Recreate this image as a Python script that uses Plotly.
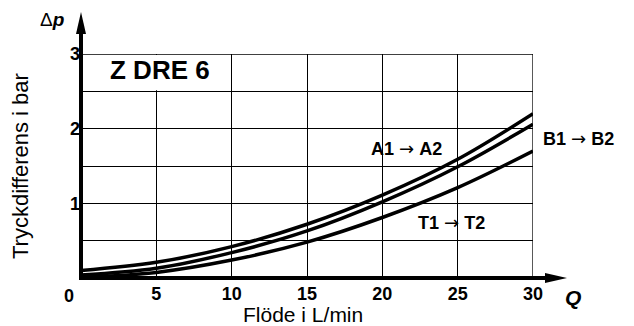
import plotly.graph_objects as go

# Data
flow = [0, 5, 10, 15, 20, 25, 30]
dp_a = [0.10, 0.21, 0.42, 0.72, 1.11, 1.59, 2.20]
dp_b = [0.04, 0.13, 0.34, 0.63, 1.02, 1.49, 2.06]
dp_t = [0.01, 0.075, 0.24, 0.48, 0.81, 1.21, 1.70]

x_ticks = [5, 10, 15, 20, 25, 30]
y_ticks = [0.5, 1, 1.5, 2, 2.5, 3]
y_ticktext = ["", "1", "", "2", "", "3"]

FONT = "Arial, Liberation Sans, sans-serif"
W, H = 626, 318          # page body adds an 8px margin
ML, MR, MT, MB = 73, 101, 46, 48
PW, PH = W - ML - MR, H - MT - MB

def px(p):  # pixel offset -> paper fraction (x)
    return p / PW

def py(p):
    return p / PH

fig = go.Figure()
for ys in (dp_a, dp_b, dp_t):
    fig.add_trace(go.Scatter(x=flow, y=ys, mode="lines",
                             line=dict(color="black", width=3.5, shape="spline", smoothing=1.0),
                             showlegend=False, hoverinfo="skip"))

shapes = []
# white box behind "Z DRE 6" hiding grid
shapes.append(dict(type="rect", xref="x", yref="y", x0=0.2, x1=9.92, y0=2.515, y1=2.985,
                   fillcolor="white", line=dict(width=0), layer="between"))
# border lines at x=30 and y=3
shapes.append(dict(type="line", xref="x", yref="paper", x0=30, x1=30, y0=0, y1=1,
                   line=dict(color="black", width=1.3), layer="between"))
shapes.append(dict(type="line", xref="paper", yref="y", x0=0, x1=1, y0=3, y1=3,
                   line=dict(color="black", width=1.3), layer="between"))
# y axis with arrow
shapes.append(dict(type="line", xref="paper", yref="paper", x0=0, x1=0, y0=-py(2), y1=1 + py(22),
                   line=dict(color="black", width=4)))
shapes.append(dict(type="path", xref="paper", yref="paper",
                   path=f"M {-px(5)} {1 + py(20)} L {px(5)} {1 + py(20)} L 0 {1 + py(42)} Z",
                   fillcolor="black", line=dict(width=0)))
# x axis with arrow
shapes.append(dict(type="line", xref="paper", yref="paper", x0=-px(2), x1=1 + px(14), y0=0, y1=0,
                   line=dict(color="black", width=4)))
shapes.append(dict(type="path", xref="paper", yref="paper",
                   path=f"M {1 + px(12)} {-py(5)} L {1 + px(12)} {py(5)} L {1 + px(34)} 0 Z",
                   fillcolor="black", line=dict(width=0)))

def ann(**kw):
    d = dict(showarrow=False, xanchor="center", yanchor="middle")
    d.update(kw)
    return d

ARROW = "<span style='font-family:DejaVu Sans;font-weight:normal'>→</span>"

def flow_label(a, b):
    return f"<b>{a}</b> {ARROW} <b>{b}</b>"

annotations = [
    ann(x=5.24, y=2.78, xref="x", yref="y", text="<b>Z DRE 6</b>",
        font=dict(size=26, family=FONT, color="black")),
    ann(x=21.6, y=1.73, xref="x", yref="y", text=flow_label("A1", "A2"),
        font=dict(size=18, family=FONT, color="black")),
    ann(x=33.0 / 30, y=1.87 / 3, xref="paper", yref="paper", text=flow_label("B1", "B2"),
        font=dict(size=18, family=FONT, color="black")),
    ann(x=24.6, y=0.74, xref="x", yref="y", text=flow_label("T1", "T2"),
        font=dict(size=18, family=FONT, color="black")),
    ann(x=0, y=0, xref="paper", yref="paper", text="<b>0</b>",
        xshift=-12, yshift=-18, font=dict(size=18, family=FONT, color="black")),
    ann(x=0, y=1, xref="paper", yref="paper", text="Δ<b><i>p</i></b>",
        xshift=-29, yshift=35, font=dict(size=19, family=FONT, color="black")),
    ann(x=1, y=0, xref="paper", yref="paper", text="<b><i>Q</i></b>",
        xshift=40, yshift=-19, font=dict(size=21, family=FONT, color="black")),
    ann(x=0.5, y=0, xref="paper", yref="paper", text="Flöde i L/min",
        xshift=-4, yshift=-36, font=dict(size=21, family=FONT, color="black")),
    ann(x=0, y=0.5, xref="paper", yref="paper", text="Tryckdifferens i bar",
        textangle=-90, xshift=-61, yshift=0, font=dict(size=22, family=FONT, color="black")),
]

fig.update_layout(
    width=W, height=H, margin=dict(l=ML, r=MR, t=MT, b=MB),
    paper_bgcolor="white", plot_bgcolor="white",
    shapes=shapes, annotations=annotations,
    xaxis=dict(range=[0, 30], tickvals=x_ticks, ticktext=[str(v) for v in x_ticks],
               showgrid=True, gridcolor="black", gridwidth=1.3, zeroline=False, showline=False,
               ticks="", ticklabelstandoff=3,
               tickfont=dict(size=18, family=FONT, color="black", weight="bold"),
               fixedrange=True),
    yaxis=dict(range=[0, 3], tickvals=y_ticks, ticktext=y_ticktext,
               showgrid=True, gridcolor="black", gridwidth=1.3, zeroline=False, showline=False,
               ticks="", tickfont=dict(size=18, family=FONT, color="black", weight="bold"),
               fixedrange=True),
)

fig.write_html("out.html")
